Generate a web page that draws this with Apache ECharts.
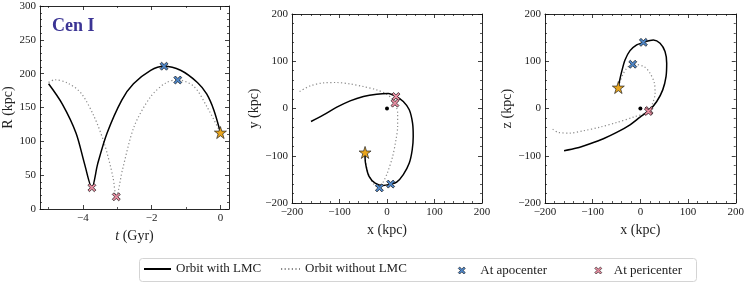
<!DOCTYPE html>
<html><head><meta charset="utf-8">
<script src="https://cdn.jsdelivr.net/npm/echarts@6/dist/echarts.min.js"></script>
<style>html,body{margin:0;padding:0;background:#fff}#c{width:747px;height:284px}</style>
</head><body><div id="c"></div>
<script>
// ---- tick labels ----
const tTicks = [-4, -2, 0];
const tMinor = [-5, -3, -1];
const rTicks = [0, 50, 100, 150, 200, 250, 300];
const rMinor = [10,20,30,40,60,70,80,90,110,120,130,140,160,170,180,190,210,220,230,240,260,270,280,290];
const posTicks = [-200, -100, 0, 100, 200];
const posMinor = [-180,-160,-140,-120,-80,-60,-40,-20,20,40,60,80,120,140,160,180];

// ---- R(t) panel ----
const rWithLMC = [[-5.0,185],[-4.6,155],[-4.2,112],[-3.95,66],[-3.74,31.5],[-3.57,67],[-3.3,112],[-2.87,161],[-2.53,185],[-2.03,205],[-1.64,211],[-1.16,205],[-0.67,187],[-0.4,170],[-0.19,146],[0,113]];
const rWithoutLMC = [[-5.0,187],[-4.82,191],[-4.44,186],[-4.05,171],[-3.67,136],[-3.38,97],[-3.13,48],[-3.03,18],[-2.85,58],[-2.51,122],[-2.03,166],[-1.6,186],[-1.24,191],[-0.77,181],[-0.39,151],[0,113]];
const apoTR = [[-1.64,211],[-1.24,190.6]];
const periTR = [[-3.74,31.5],[-3.03,18]];
const nowTR = [[0,113]];

// ---- x-y panel ----
const xyWithLMC = [[-160,-27.5],[-133.6,-13.4],[-105.6,2.8],[-77.6,16.2],[-49.7,25.4],[-21.7,30.3],[2.8,31.7],[18.9,25.4],[34.3,14.8],[46.9,-2.8],[53.8,-31],[55.2,-59],[53.1,-87.3],[46.9,-115.5],[34.3,-140],[20.3,-156],[7.7,-160],[-7.7,-163],[-25,-158],[-37.8,-143.7],[-44,-122.5],[-46.2,-105],[-46.2,-93]];
const xyWithoutLMC = [[-184,36],[-161.5,47.9],[-133.6,54.2],[-105.6,55],[-77.6,52],[-49.7,46.5],[-21.7,39.4],[-0.7,30.3],[11.9,19.7],[16.8,11.3],[22.4,-9.9],[22.4,-38],[18.9,-66.2],[11.9,-101.4],[0.7,-136.6],[-9,-157.7],[-16,-168],[-27.3,-161],[-35.7,-147],[-42.7,-126],[-45.5,-108.5],[-46.2,-93]];
const apoXY = [[7.7,-160],[-16,-168]];
const periXY = [[18.9,25.4],[16.8,11.3]];
const nowXY = [[-46.2,-93]];

// ---- x-z panel ----
const xzWithLMC = [[-160,-89.4],[-133.6,-83.8],[-105.6,-74.6],[-77.6,-64],[-49.7,-50.7],[-21.7,-34.5],[-0.7,-18.3],[18.2,-4.2],[34.3,14.8],[46.9,39.4],[53.8,67.6],[55.2,95.8],[51.7,120.4],[41.3,138],[27.3,145],[6.3,140],[-7.7,134.5],[-21.7,122.5],[-32.2,102.8],[-39.2,78],[-44,57],[-46.2,44.4]];
const xzWithoutLMC = [[-184,-43.7],[-172,-50.7],[-147.6,-52],[-119.6,-47.2],[-84.6,-39.4],[-49.7,-29.6],[-14.7,-18.3],[16.8,-6.3],[25.9,11.3],[30.8,32.4],[29.4,53.5],[20.3,74.6],[7.7,88.7],[-16,93.7],[-28.7,85.2],[-37,71],[-42.7,57],[-46.2,44.4]];
const apoXZ = [[6.3,140],[-16,93.7]];
const periXZ = [[18.2,-4.2],[16.8,-6.3]];
const nowXZ = [[-46.2,44.4]];

const origin = [[0,0]];

const FONT = 'Liberation Serif';
const TXT = '#222';
const X_SYM = 'path://M0,2 L2,0 L5,3 L8,0 L10,2 L7,5 L10,8 L8,10 L5,7 L2,10 L0,8 L3,5 Z';
const STAR = 'path://M10,0 L12.245,6.91 L19.511,6.91 L13.633,11.18 L15.878,18.09 L10,13.82 L4.122,18.09 L6.367,11.18 L0.489,6.91 L7.755,6.91 Z';
const BLUE = '#4f87c9', PINK = '#e98ea2', GOLD = '#e8a51e';

function fmt(v){ return v < 0 ? '\u2212' + Math.abs(v) : String(v); }

function axes(dim, grid, min, max, majors, minors, name, nameGap, rich) {
  const pos = dim === 'x' ? ['bottom','top'] : ['left','right'];
  const base = {type:'value', gridIndex:grid, min:min, max:max, splitLine:{show:false}, silent:true};
  const line = {show:true, onZero:false, lineStyle:{color:'#111', width:0.9}};
  const noLine = {show:false, onZero:false};
  const maj = function(){ return {show:true, inside:true, length:4, customValues:majors, lineStyle:{color:'#111', width:0.8}}; };
  const mn = function(){ return {show:true, inside:true, length:2, customValues:minors, lineStyle:{color:'#111', width:0.7}}; };
  return [
    Object.assign({}, base, {position:pos[0], axisLine:line, axisTick:maj(),
      axisLabel:{show:true, customValues:majors, formatter:fmt, margin:4, fontFamily:FONT, fontSize:11, color:TXT},
      name:name, nameLocation:'middle', nameGap:nameGap,
      nameTextStyle:{fontFamily:FONT, fontSize:14, color:TXT, rich:rich||{}}}),
    Object.assign({}, base, {position:pos[0], axisLine:noLine, axisTick:mn(), axisLabel:{show:false}}),
    Object.assign({}, base, {position:pos[1], axisLine:line, axisTick:maj(), axisLabel:{show:false}}),
    Object.assign({}, base, {position:pos[1], axisLine:noLine, axisTick:mn(), axisLabel:{show:false}})
  ];
}

const xAxes = [].concat(
  axes('x', 0, -5.25, 0.25, tTicks, tMinor, '{i|t} (Gyr)', 17, {i:{fontFamily:FONT, fontSize:14, fontStyle:'italic', color:TXT}}),
  axes('x', 1, -200, 200, posTicks, posMinor, 'x (kpc)', 17),
  axes('x', 2, -200, 200, posTicks, posMinor, 'x (kpc)', 17)
);
const yAxes = [].concat(
  axes('y', 0, 0, 300, rTicks, rMinor, 'R (kpc)', 25),
  axes('y', 1, -200, 200, posTicks, posMinor, 'y (kpc)', 31),
  axes('y', 2, -200, 200, posTicks, posMinor, 'z (kpc)', 31)
);

function panelSeries(g, withL, withoutL, apo, peri, now, showOrigin) {
  const ai = g * 4;
  const s = [
    {type:'line', name:'Orbit with LMC', xAxisIndex:ai, yAxisIndex:ai, data:withL, symbol:'none', smooth:0.3,
      lineStyle:{color:'#000', width:1.5}, itemStyle:{color:'#000'}, z:3},
    {type:'line', name:'Orbit without LMC', xAxisIndex:ai, yAxisIndex:ai, data:withoutL, symbol:'none', smooth:0.3,
      lineStyle:{color:'#8a8a8a', width:1.2, type:[1.2,2.4]}, itemStyle:{color:'#8a8a8a'}, z:2},
    {type:'scatter', name:'At apocenter', xAxisIndex:ai, yAxisIndex:ai, data:apo, symbol:X_SYM, symbolSize:8,
      itemStyle:{color:BLUE, borderColor:'#111', borderWidth:0.7, opacity:1}, z:5},
    {type:'scatter', name:'At pericenter', xAxisIndex:ai, yAxisIndex:ai, data:peri, symbol:X_SYM, symbolSize:8,
      itemStyle:{color:PINK, borderColor:'#111', borderWidth:0.7, opacity:1}, z:5},
    {type:'scatter', name:'Present', xAxisIndex:ai, yAxisIndex:ai, data:now, symbol:STAR, symbolSize:12,
      itemStyle:{color:GOLD, borderColor:'#222', borderWidth:0.7, opacity:1}, z:6}
  ];
  if (showOrigin) s.push({type:'scatter', name:'Origin', xAxisIndex:ai, yAxisIndex:ai, data:origin, symbol:'circle', symbolSize:4,
      itemStyle:{color:'#000', opacity:1}, z:4});
  return s;
}

const series = [].concat(
  panelSeries(0, rWithLMC, rWithoutLMC, apoTR, periTR, nowTR, false),
  panelSeries(1, xyWithLMC, xyWithoutLMC, apoXY, periXY, nowXY, true),
  panelSeries(2, xzWithLMC, xzWithoutLMC, apoXZ, periXZ, nowXZ, true)
);

function leg(item, left, w, h, padLeft, top) {
  return {data:[item], left:left, top:top, itemWidth:w, itemHeight:h, itemGap:0, padding:0,
    selectedMode:false, formatter:'{a|{name}}',
    textStyle:{fontFamily:FONT, fontSize:13, color:TXT, rich:{a:{fontFamily:FONT, fontSize:13, color:TXT, padding:[0,0,0,padLeft]}}}};
}

const chart = echarts.init(document.getElementById('c'), null, {renderer:'canvas', width:747, height:284});
chart.setOption({
  animation:false,
  backgroundColor:'#fff',
  title:{text:'Cen I', left:47, top:12, textStyle:{fontFamily:FONT, fontSize:18, fontWeight:'bold', color:'#3b3494'}},
  grid:[
    {left:39, top:6, width:190, height:203},
    {left:292, top:14, width:190, height:189},
    {left:545, top:14, width:191, height:189}
  ],
  xAxis:xAxes,
  yAxis:yAxes,
  legend:[
    leg({name:'Orbit with LMC', itemStyle:{opacity:0, borderWidth:0}}, 143, 27, 10, 0, 262.5),
    leg({name:'Orbit without LMC', itemStyle:{opacity:0, borderWidth:0}}, 280, 19, 10, 0, 262.5),
    leg({name:'At apocenter', icon:X_SYM, itemStyle:{color:BLUE, borderColor:'#111', borderWidth:0.6}}, 458, 7, 7, 10, 264),
    leg({name:'At pericenter', icon:X_SYM, itemStyle:{color:PINK, borderColor:'#111', borderWidth:0.6}}, 594.5, 7, 7, 7, 264)
  ],
  graphic:[{type:'rect', z:-10, silent:true, shape:{x:139.5, y:258.5, width:557, height:23, r:3},
    style:{fill:'#fff', stroke:'#d4d4d4', lineWidth:1}}],
  series:series
});
</script>
</body></html>
